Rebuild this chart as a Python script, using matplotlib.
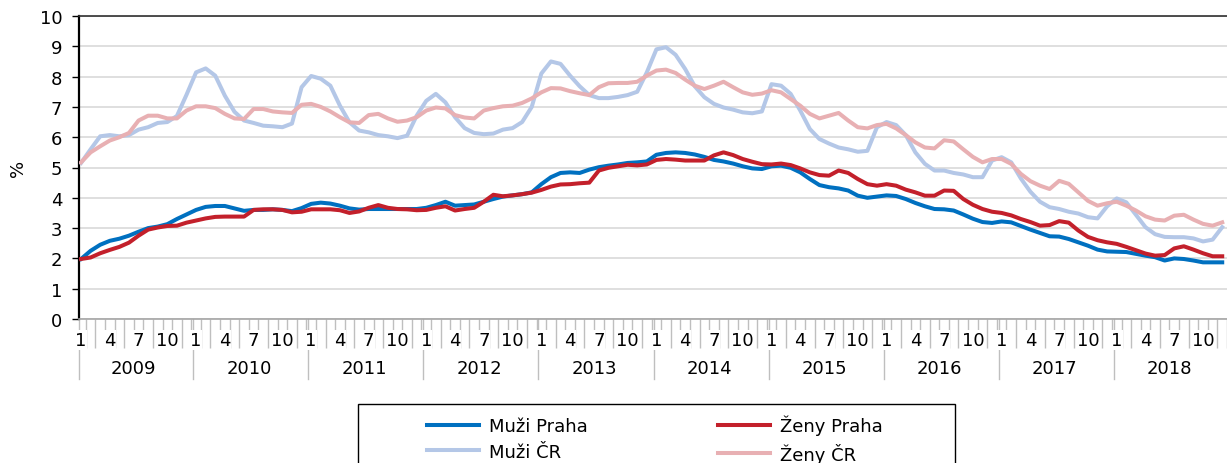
import numpy as np
import matplotlib.pyplot as plt
from matplotlib.patches import Rectangle
import matplotlib.transforms as mtransforms

plt.rcParams['font.family'] = ['DejaVu Sans']

# monthly values 2009-2018 (%)
years = ["2009", "2010", "2011", "2012", "2013", "2014", "2015", "2016", "2017", "2018"]
month_labels = ["1", "4", "7", "10"]

muzi_praha = [
    1.98, 2.25, 2.45, 2.58, 2.65, 2.75, 2.88, 3.00, 3.05, 3.13, 3.30, 3.45,
    3.60, 3.70, 3.73, 3.73, 3.65, 3.57, 3.60, 3.60, 3.62, 3.60, 3.56, 3.66,
    3.80, 3.84, 3.81, 3.74, 3.65, 3.61, 3.63, 3.63, 3.63, 3.63, 3.63, 3.63,
    3.67, 3.76, 3.87, 3.74, 3.76, 3.78, 3.87, 3.96, 4.04, 4.08, 4.12, 4.18,
    4.45, 4.68, 4.82, 4.84, 4.82, 4.93, 5.01, 5.06, 5.10, 5.15, 5.17, 5.20,
    5.42, 5.48, 5.50, 5.48, 5.43, 5.35, 5.25, 5.20, 5.13, 5.04, 4.97, 4.95,
    5.04, 5.06, 4.99, 4.84, 4.62, 4.42, 4.35, 4.31, 4.24, 4.07, 4.00, 4.04,
    4.08, 4.06, 3.96, 3.83, 3.72, 3.63, 3.62, 3.58, 3.45, 3.31, 3.20, 3.17,
    3.22, 3.19, 3.07, 2.95, 2.84, 2.73, 2.72, 2.64, 2.53, 2.42, 2.29, 2.23,
    2.22, 2.21, 2.15, 2.09, 2.04, 1.93, 2.00, 1.98, 1.93, 1.87, 1.87, 1.87,
]
zeny_praha = [
    1.98, 2.03, 2.17, 2.28, 2.38, 2.52, 2.75, 2.95, 3.02, 3.07, 3.08, 3.18,
    3.25, 3.32, 3.37, 3.38, 3.38, 3.38, 3.60, 3.62, 3.62, 3.60, 3.52, 3.54,
    3.62, 3.62, 3.62, 3.59, 3.50, 3.55, 3.67, 3.76, 3.67, 3.63, 3.62, 3.59,
    3.60, 3.67, 3.72, 3.58, 3.63, 3.67, 3.87, 4.10, 4.05, 4.08, 4.12, 4.17,
    4.26, 4.37, 4.44, 4.45, 4.48, 4.50, 4.90, 4.99, 5.04, 5.09, 5.07, 5.10,
    5.25, 5.28, 5.26, 5.23, 5.23, 5.23, 5.40, 5.50, 5.41, 5.28, 5.19, 5.11,
    5.10, 5.13, 5.08, 4.97, 4.84, 4.75, 4.73, 4.90, 4.82, 4.62, 4.45, 4.40,
    4.45, 4.40, 4.27, 4.18, 4.07, 4.07, 4.24, 4.23, 3.96, 3.77, 3.63, 3.54,
    3.50, 3.42, 3.30, 3.20, 3.08, 3.10, 3.23, 3.18, 2.92, 2.71, 2.60, 2.53,
    2.48, 2.38, 2.27, 2.16, 2.09, 2.11, 2.33, 2.40, 2.29, 2.17, 2.07, 2.07,
]
muzi_cr = [
    5.15, 5.60, 6.03, 6.07, 6.03, 6.07, 6.25, 6.33, 6.47, 6.50, 6.70, 7.40,
    8.14, 8.27, 8.03, 7.37, 6.84, 6.55, 6.47, 6.38, 6.36, 6.33, 6.45, 7.65,
    8.02, 7.93, 7.70, 7.04, 6.49, 6.22, 6.16, 6.07, 6.03, 5.97, 6.05, 6.71,
    7.20, 7.43, 7.15, 6.66, 6.30, 6.14, 6.10, 6.12, 6.25, 6.30, 6.50, 7.00,
    8.10, 8.50, 8.42, 8.03, 7.68, 7.39, 7.29, 7.29, 7.33, 7.39, 7.50, 8.14,
    8.90, 8.97, 8.72, 8.25, 7.68, 7.32, 7.10, 6.98, 6.91, 6.82, 6.79, 6.85,
    7.75, 7.70, 7.43, 6.88, 6.27, 5.94, 5.79, 5.66, 5.60, 5.52, 5.55, 6.33,
    6.50, 6.40, 6.07, 5.50, 5.12, 4.90, 4.90, 4.82, 4.77, 4.68, 4.68, 5.23,
    5.34, 5.17, 4.64, 4.20, 3.87, 3.69, 3.63, 3.54, 3.48, 3.36, 3.32, 3.72,
    3.98, 3.85, 3.44, 3.03, 2.80, 2.71, 2.70, 2.70, 2.66, 2.56, 2.62, 3.03,
]
zeny_cr = [
    5.17, 5.50, 5.70, 5.89, 6.00, 6.14, 6.55, 6.71, 6.71, 6.62, 6.62, 6.88,
    7.02, 7.02, 6.96, 6.77, 6.62, 6.60, 6.93, 6.93, 6.85, 6.82, 6.80, 7.07,
    7.10, 7.00, 6.85, 6.66, 6.49, 6.47, 6.73, 6.77, 6.62, 6.51, 6.55, 6.66,
    6.88, 6.98, 6.95, 6.73, 6.65, 6.62, 6.88, 6.96, 7.02, 7.04, 7.13, 7.28,
    7.48, 7.62, 7.61, 7.52, 7.45, 7.39, 7.65, 7.78, 7.79, 7.79, 7.83, 8.03,
    8.20, 8.23, 8.12, 7.90, 7.70, 7.59, 7.70, 7.83, 7.65, 7.48, 7.40, 7.44,
    7.55, 7.48, 7.26, 7.04, 6.77, 6.62, 6.71, 6.80, 6.55, 6.33, 6.29, 6.40,
    6.44, 6.29, 6.07, 5.83, 5.66, 5.63, 5.90, 5.86, 5.60, 5.35, 5.17, 5.28,
    5.28, 5.12, 4.79, 4.55, 4.40, 4.29, 4.56, 4.46, 4.18, 3.90, 3.74, 3.82,
    3.87, 3.74, 3.58, 3.39, 3.28, 3.25, 3.41, 3.44, 3.28, 3.14, 3.08, 3.19,
]

W, H = 1227, 464
fig = plt.figure(figsize=(W / 100, H / 100), dpi=100)
ax_left, ax_right, ax_top, ax_bot = 79, 1227, 17, 320
ax = fig.add_axes([ax_left / W, 1 - ax_bot / H, (ax_right - ax_left) / W, (ax_bot - ax_top) / H])

fs = 13
x = np.arange(len(muzi_praha))
lw = 2.9
ax.plot(x, muzi_cr, color="#b4c7e7", lw=lw, label="Muži ČR", zorder=3)
ax.plot(x, zeny_cr, color="#e8b0b3", lw=lw, label="Ženy ČR", zorder=3)
ax.plot(x, muzi_praha, color="#0070c0", lw=lw, label="Muži Praha", zorder=4)
ax.plot(x, zeny_praha, color="#c3202b", lw=lw, label="Ženy Praha", zorder=4)

ax.set_xlim(-0.21, 119.1)
ax.set_ylim(0, 10)
ax.set_yticks(range(0, 11))
ax.yaxis.grid(True, color="#d9d9d9", lw=1.2)
ax.set_axisbelow(True)
ax.tick_params(axis="y", length=5, width=1, color="black", labelsize=fs, pad=7)
ax.set_ylabel("%", fontsize=fs)
ax.yaxis.set_label_coords(-0.045, 0.5)

ax.spines["right"].set_visible(False)
ax.spines["left"].set_color("black")
ax.spines["left"].set_linewidth(1.6)
ax.spines["top"].set_color("#303030")
ax.spines["top"].set_linewidth(1.2)
ax.spines["bottom"].set_color("#a6a6a6")
ax.spines["bottom"].set_linewidth(1.2)

# x axis: month ticks between categories, labels 1/4/7/10, years below
ax.set_xticks([])
ax.set_xticks(np.arange(len(x)) + 0.5, minor=True)
ax.tick_params(axis="x", which="minor", length=21, width=1, color="#bfbfbf")

trans = mtransforms.blended_transform_factory(ax.transData, ax.transAxes)
h = ax_bot - ax_top
for k, yr in enumerate(years):
    for j, ml in enumerate(month_labels):
        ax.text(12 * k + 3 * j, (ax_bot - 341) / h, ml, transform=trans, ha="center", va="center",
                fontsize=fs, clip_on=False,
                bbox=dict(facecolor="white", edgecolor="none", pad=0.4))
    ax.text(12 * k + 5.5, (ax_bot - 369) / h, yr, transform=trans, ha="center", va="center",
            fontsize=fs, clip_on=False)
    xs = max(12 * k - 0.3, -0.21)
    ax.plot([xs, xs], [0, (ax_bot - 380) / h], transform=trans, color="#bfbfbf", lw=1,
            clip_on=False)

# legend with frame cut off at the bottom, as in the source
fig.patches.append(Rectangle((358 / W, -0.05), (955 - 358) / W, 0.05 + 1 - 405 / H,
                             transform=fig.transFigure, fill=False, edgecolor="black", lw=1))
handles, labels = ax.get_legend_handles_labels()
order = [2, 0, 3, 1]
fig.legend([handles[i] for i in order], [labels[i] for i in order],
           loc="upper left", bbox_to_anchor=(427 / W, 1 - 416 / H), ncols=2,
           frameon=False, fontsize=fs, handlelength=2.9, handletextpad=0.55,
           labelspacing=0.4, columnspacing=7.2, borderaxespad=0, borderpad=0)

fig.savefig("out.png", dpi=100)
